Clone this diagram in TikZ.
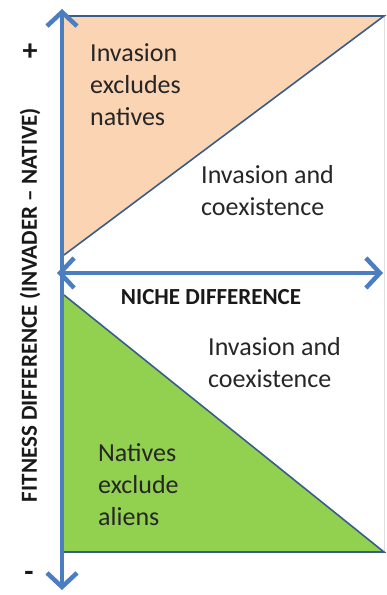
\documentclass[tikz,border=0pt]{standalone}
\usepackage{fontspec}
\setmainfont{Carlito}
\usetikzlibrary{arrows.meta}

\definecolor{axisblue}{RGB}{74,126,193}
\definecolor{edgeblue}{RGB}{56,93,138}
\definecolor{orangefill}{RGB}{251,212,180}
\definecolor{greenfill}{RGB}{146,208,80}

\begin{document}
\begin{tikzpicture}[x=1pt, y=-1pt,
    axis/.style={line width=4.5pt, axisblue,
      {Straight Barb[length=14pt,width=30pt]}-{Straight Barb[length=14pt,width=30pt]}},
    edge/.style={line width=1.6pt, edgeblue},
    region/.style={font=\fontsize{26}{32}\selectfont, align=left, anchor=west,
      inner sep=0pt, text=black!85},
    axislabel/.style={font=\bfseries\fontsize{23}{26}\selectfont, text=black!90}]

	\useasboundingbox (0,0) rectangle (386,595);

	% Corners of the plot
	\coordinate (topleft) at (64,16);
	\coordinate (topright) at (384,16);
	\coordinate (orangeend) at (64,255);
	\coordinate (greentop) at (64,295);
	\coordinate (botleft) at (64,552);
	\coordinate (botright) at (384,552);

	% Shaded regions
	\fill[orangefill] (topleft) -- (topright) -- (orangeend) -- cycle;
	\fill[greenfill] (greentop) -- (botright) -- (botleft) -- cycle;

	% Faint frame on the right
	\draw[gray!25, line width=0.8pt] (topright) -- (botright);

	% Boundaries
	\draw[edge] (topleft) -- (topright) -- (orangeend);
	\draw[edge] (greentop) -- (botright) -- (botleft);

	% Axes
	\coordinate (ytop) at (62,9);
	\coordinate (ybot) at (62,590);
	\coordinate (xleft) at (57,273);
	\coordinate (xright) at (383,273);
	\draw[axis] (ybot) -- (ytop);
	\draw[axis] (xleft) -- (xright);

	% Axis labels
	\node[axislabel, font=\bfseries\fontsize{30}{30}\selectfont] (plus) at (30,52) {+};
	\node[axislabel, font=\bfseries\fontsize{30}{30}\selectfont] (minus) at (29,576) {-};
	\node[axislabel, rotate=90] (ylabel) at (30,305) {FITNESS DIFFERENCE (INVADER – NATIVE)};
	\node[axislabel] (xlabel) at (211,297) {NICHE DIFFERENCE};

	% Region labels
	\node[region] (invexcl) at (90,85) {Invasion\\excludes\\natives};
	\node[region] (coexup) at (201,191) {Invasion and\\coexistence};
	\node[region] (coexlow) at (208,363) {Invasion and\\coexistence};
	\node[region] (natexcl) at (98,485) {Natives\\exclude\\aliens};
\end{tikzpicture}
\end{document}
